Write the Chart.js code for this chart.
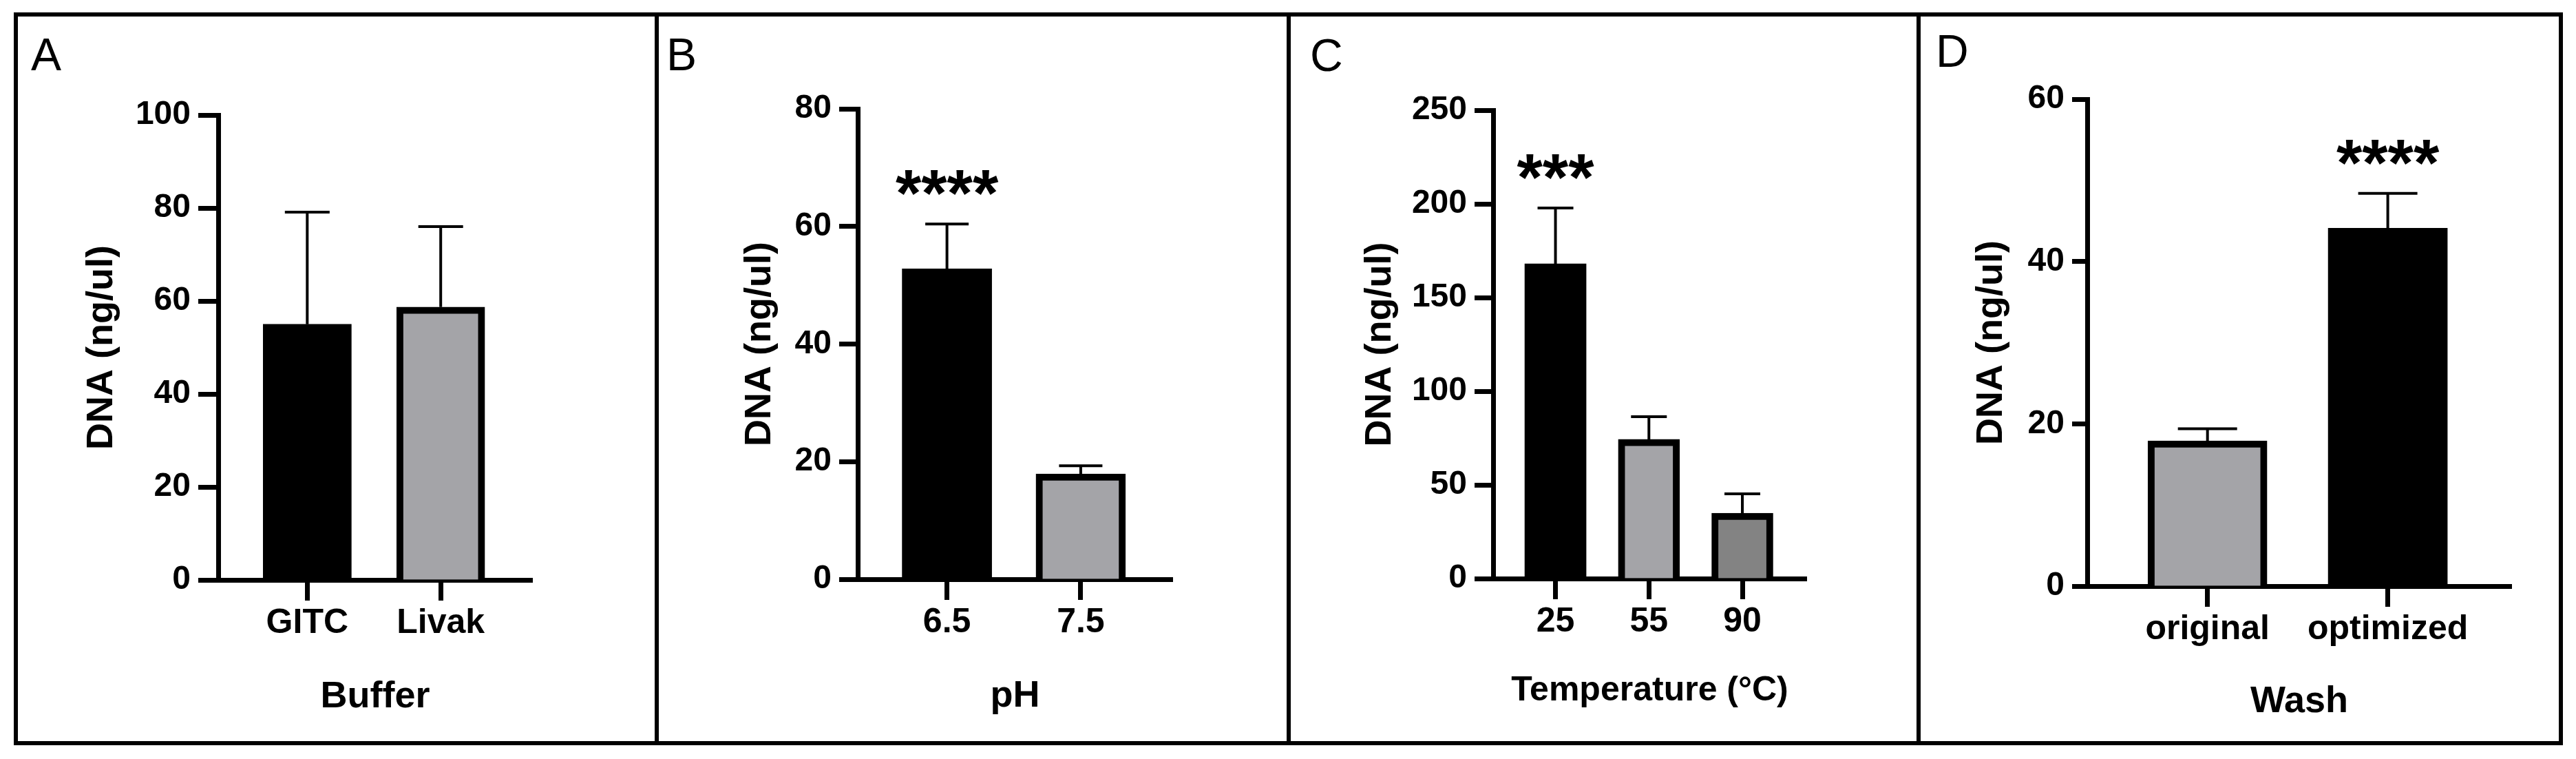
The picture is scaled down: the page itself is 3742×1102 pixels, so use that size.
<!DOCTYPE html>
<html><head><meta charset="utf-8">
<script src="https://cdn.jsdelivr.net/npm/chart.js@4.4.1/dist/chart.umd.min.js"></script>
<style>
html,body{margin:0;padding:0;background:#fff;width:3742px;height:1102px;overflow:hidden;}
canvas{position:absolute;left:0;top:0;}
.frame{position:absolute;left:20px;top:18px;width:3703px;height:1064px;border:6px solid #000;box-sizing:border-box;}
.sep{position:absolute;top:18px;height:1064px;width:6px;background:#000;}
.lbl{position:absolute;font-family:'Liberation Sans',Arial,sans-serif;font-size:66px;line-height:66px;color:#000;}
</style></head><body>
<canvas id="cA" width="3742" height="1102"></canvas>
<canvas id="cB" width="3742" height="1102"></canvas>
<canvas id="cC" width="3742" height="1102"></canvas>
<canvas id="cD" width="3742" height="1102"></canvas>
<div class="frame"></div>
<div class="sep" style="left:951px"></div>
<div class="sep" style="left:1869px"></div>
<div class="sep" style="left:2784px"></div>
<div class="lbl" style="left:45px;top:46px">A</div>
<div class="lbl" style="left:968px;top:46px">B</div>
<div class="lbl" style="left:1903px;top:47px">C</div>
<div class="lbl" style="left:2812px;top:41px">D</div>
<script>
// ---- data ----
const bufferLabels = ['GITC', 'Livak'];
const bufferMean = [55.0, 58.7];
const bufferSD = [24.1, 17.3];
const bufferSig = ['', ''];
const bufferTicks = [0, 20, 40, 60, 80, 100];

const phLabels = ['6.5', '7.5'];
const phMean = [52.8, 17.9];
const phSD = [7.6, 1.4];
const phSig = ['****', ''];
const phTicks = [0, 20, 40, 60, 80];

const tempLabels = ['25', '55', '90'];
const tempMean = [168, 74.3, 34.9];
const tempSD = [29.8, 12.1, 10.3];
const tempSig = ['***', '', ''];
const tempTicks = [0, 50, 100, 150, 200, 250];

const washLabels = ['original', 'optimized'];
const washMean = [17.9, 44.1];
const washSD = [1.5, 4.3];
const washSig = ['', '****'];
const washTicks = [0, 20, 40, 60];

const yTitle = 'DNA (ng/ul)';

// ---- styles / layout ----
const BLACK = '#000000', GRAY = '#a4a4a8', DGRAY = '#838383';
Chart.defaults.font.family = "'Liberation Sans', Arial, sans-serif";
const W = 3742, H = 1102, PAD_L = 0.667, PAD_R = 0.685;

const panels = [
  {id:'cA', labels:bufferLabels, mean:bufferMean, sd:bufferSD, sig:bufferSig, ticks:bufferTicks, title:'Buffer',
   colors:[BLACK, GRAY], axisX:317, top:167, bottom:842, right:773, yTitleX:148, xTitleBase:1030, xTitleSize:54,
   yTick:29, barW:128, cap:65},
  {id:'cB', labels:phLabels, mean:phMean, sd:phSD, sig:phSig, ticks:phTicks, title:'pH',
   colors:[BLACK, GRAY], axisX:1246, top:158, bottom:841, right:1703, yTitleX:1104, xTitleBase:1029, xTitleSize:54,
   yTick:27, barW:130, cap:63},
  {id:'cC', labels:tempLabels, mean:tempMean, sd:tempSD, sig:tempSig, ticks:tempTicks, title:'Temperature (\u00B0C)',
   colors:[BLACK, GRAY, DGRAY], axisX:2169, top:160, bottom:840, right:2624, yTitleX:2005, xTitleBase:1020, xTitleSize:50,
   yTick:27, barW:89, cap:52},
  {id:'cD', labels:washLabels, mean:washMean, sd:washSD, sig:washSig, ticks:washTicks, title:'Wash',
   colors:[GRAY, BLACK], axisX:3032, top:144, bottom:851, right:3648, yTitleX:2893, xTitleBase:1037, xTitleSize:54,
   yTick:22, barW:173, cap:86}
];

function errPlugin(p) {
  return {
    id: 'errbars',
    afterDatasetsDraw(chart) {
      const ctx = chart.ctx, ys = chart.scales.y, meta = chart.getDatasetMeta(0);
      ctx.save();
      ctx.strokeStyle = '#000'; ctx.fillStyle = '#000'; ctx.lineWidth = 4; ctx.lineCap = 'butt';
      meta.data.forEach((bar, i) => {
        const v = p.mean[i];
        const top = ys.getPixelForValue(v + p.sd[i]);
        const base = ys.getPixelForValue(v);
        ctx.beginPath();
        ctx.moveTo(bar.x, base); ctx.lineTo(bar.x, top);
        ctx.moveTo(bar.x - p.cap / 2, top); ctx.lineTo(bar.x + p.cap / 2, top);
        ctx.stroke();
        if (p.sig[i]) {
          ctx.font = "bold 96px 'Liberation Sans', Arial, sans-serif";
          ctx.textAlign = 'center'; ctx.textBaseline = 'alphabetic';
          ctx.fillText(p.sig[i], bar.x, top - 12);
        }
      });
      ctx.restore();
    }
  };
}

function build(p) {
  const n = p.labels.length;
  const yTitleSize = 54, lh = 1.2;
  const xTitleMid = p.xTitleBase - 0.33 * p.xTitleSize;
  const Hx = xTitleMid + p.xTitleSize * lh / 2 - p.bottom;
  const yScaleLeft = p.yTitleX - yTitleSize * lh / 2;
  const Wy = p.axisX - yScaleLeft;
  const data = p.labels.map((l, i) => ({x: i + 1, y: p.mean[i]}));
  new Chart(document.getElementById(p.id), {
    type: 'bar',
    data: {datasets: [{
      data,
      backgroundColor: p.colors,
      borderColor: '#000',
      borderWidth: p.colors.map(c => c === BLACK ? 0 : 10),
      borderSkipped: 'start',
      barThickness: p.barW
    }]},
    options: {
      responsive: false, animation: false, devicePixelRatio: 1, events: [],
      layout: {padding: {left: yScaleLeft, top: p.top, right: W - p.right, bottom: H - p.bottom - Hx}},
      plugins: {legend: {display: false}, tooltip: {enabled: false}},
      scales: {
        x: {
          type: 'linear', min: 1 - PAD_L, max: n + PAD_R, offset: false,
          afterBuildTicks: s => { s.ticks = p.labels.map((_, i) => ({value: i + 1})); },
          afterFit: s => { s.height = Hx; },
          grid: {display: true, drawOnChartArea: false, drawTicks: true, tickLength: 30, tickWidth: 7, tickColor: '#000', offset: false},
          border: {display: true, width: 7, color: '#000'},
          ticks: {callback: v => p.labels[Math.round(v) - 1], font: {size: 50, weight: 'bold'}, color: '#000',
                  padding: 3.5, maxRotation: 0, minRotation: 0, autoSkip: false},
          title: {display: true, text: p.title, font: {size: p.xTitleSize, weight: 'bold'}, color: '#000', padding: 0}
        },
        y: {
          type: 'linear', min: p.ticks[0], max: p.ticks[p.ticks.length - 1],
          afterBuildTicks: s => { s.ticks = p.ticks.map(v => ({value: v})); },
          afterFit: s => { s.width = Wy; },
          grid: {drawOnChartArea: false, drawTicks: true, tickLength: p.yTick, tickWidth: 7, tickColor: '#000'},
          border: {display: true, width: 7, color: '#000'},
          ticks: {font: {size: 48, weight: 'bold'}, color: '#000', padding: 11},
          title: {display: true, text: yTitle, font: {size: yTitleSize, weight: 'bold'}, color: '#000', padding: 0}
        }
      }
    },
    plugins: [errPlugin(p)]
  });
}
panels.forEach(build);
</script>
</body></html>
